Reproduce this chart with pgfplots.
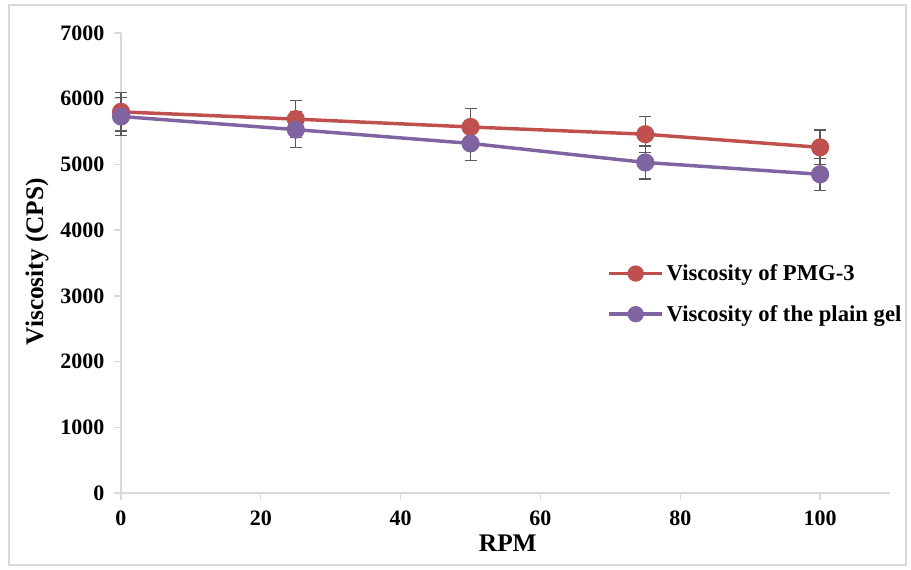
\documentclass[border=0pt]{standalone}
\usepackage{fontspec}
\setmainfont{Liberation Serif}
\usepackage{pgfplots}
\pgfplotsset{compat=1.18}
\definecolor{cPMG}{HTML}{C0504D}
\definecolor{cPlain}{HTML}{8064A2}
\definecolor{cAxis}{HTML}{D9D9D9}
\definecolor{cErr}{HTML}{595959}

% RPM, viscosity, error (about 5 %)
\pgfplotstableread{
x    y     e
0    5800  290
25   5690  285
50   5570  278
75   5460  273
100  5260  263
}\pmg
\pgfplotstableread{
x    y     e
0    5730  286
25   5530  276
50   5320  266
75   5030  251
100  4850  242
}\plain

\begin{document}
\begin{tikzpicture}
% 1 px of the reference = 0.75pt
\useasboundingbox (0pt,0pt) rectangle (683.25pt,426.75pt);
\draw[cAxis, line width=0.8pt] (6.75pt,3pt) rectangle (679.5pt,423pt);
\begin{axis}[
    at={(90.75pt,57pt)}, anchor=south west,
    scale only axis,
    width=576.75pt, height=345pt,
    xmin=0, xmax=110, ymin=0, ymax=7000,
    xtick={0,20,...,100}, ytick={0,1000,...,7000},
    axis x line*=bottom, axis y line*=left,
    axis line style={cAxis, line width=1pt},
    tick style={cAxis, line width=1pt},
    tick align=outside, major tick length=5pt,
    every axis plot/.append style={line width=2.6pt},
    ticklabel style={font=\bfseries\fontsize{16.5}{18}\selectfont},
    xticklabel style={yshift=-5pt},
    yticklabel style={xshift=-4pt},
    /pgf/number format/assume math mode=true,
    /pgf/number format/1000 sep={},
    xlabel={RPM}, ylabel={Viscosity (CPS)},
    label style={font=\bfseries\fontsize{19}{21}\selectfont},
    xlabel style={at={(axis description cs:0.503,-0.109)}, anchor=center},
    ylabel style={at={(axis description cs:-0.109,0.503)}, anchor=center},
    legend style={draw=none, fill=none, at={(0.632,0.503)}, anchor=north west,
        font=\bfseries\fontsize{17}{19}\selectfont, row sep=13pt,
        inner sep=0pt, legend cell align=left},
    legend image code/.code={
        \draw[mark repeat=2,mark phase=2, mark size=4.8pt]
            plot coordinates {(0pt,0pt) (20pt,0pt) (40pt,0pt)};},
    clip=false,
]
\addplot[cPMG, mark=*, mark size=5.5pt,
    error bars/.cd, y dir=both, y explicit,
    error bar style={cErr, line width=0.9pt},
    error mark options={rotate=90, mark size=4.5pt, cErr, line width=0.9pt}]
    table[x=x, y=y, y error=e] {\pmg};
\addlegendentry{Viscosity of PMG-3}
\addplot[cPlain, mark=*, mark size=5.5pt,
    error bars/.cd, y dir=both, y explicit,
    error bar style={cErr, line width=0.9pt},
    error mark options={rotate=90, mark size=4.5pt, cErr, line width=0.9pt}]
    table[x=x, y=y, y error=e] {\plain};
\addlegendentry{Viscosity of the plain gel}
\end{axis}
\end{tikzpicture}
\end{document}
